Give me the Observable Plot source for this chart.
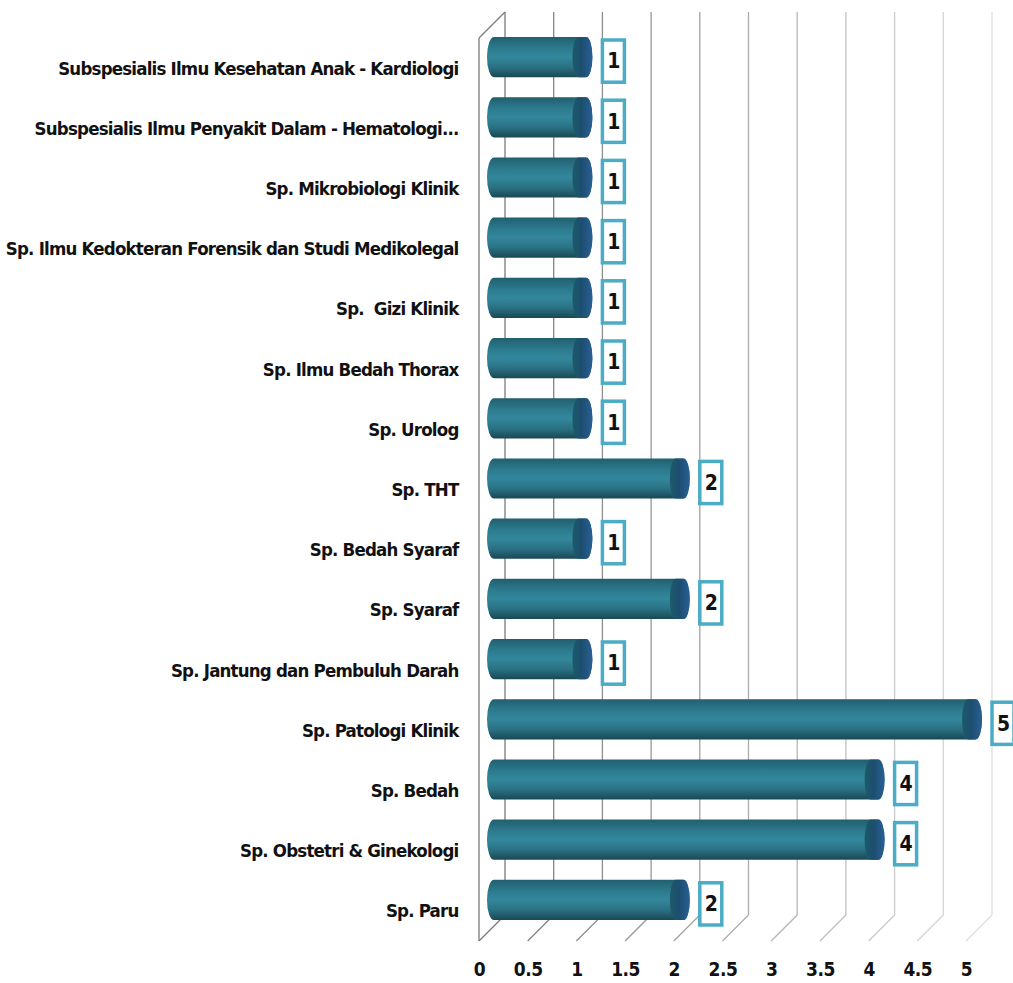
<!DOCTYPE html>
<html>
<head>
<meta charset="utf-8">
<script src="https://cdn.jsdelivr.net/npm/d3@7"></script>
<script src="https://cdn.jsdelivr.net/npm/@observablehq/plot@0.6"></script>
<style>
  html, body { margin: 0; padding: 0; background: #ffffff; }
  #chart { width: 1013px; height: 983px; overflow: hidden; }
  #chart svg [aria-label^="y-axis"] text { font-size: 18.5px; letter-spacing: -0.8px; }
  #chart svg [aria-label^="x-axis"] text { font-size: 19px; letter-spacing: -0.5px; }
</style>
</head>
<body>
<div id="chart"></div>
<script>
// ---- data (top to bottom as displayed) ----
const categories = [
  "Subspesialis Ilmu Kesehatan Anak - Kardiologi",
  "Subspesialis Ilmu Penyakit Dalam - Hematologi...",
  "Sp. Mikrobiologi Klinik",
  "Sp. Ilmu Kedokteran Forensik dan Studi Medikolegal",
  "Sp.  Gizi Klinik",
  "Sp. Ilmu Bedah Thorax",
  "Sp. Urolog",
  "Sp. THT",
  "Sp. Bedah Syaraf",
  "Sp. Syaraf",
  "Sp. Jantung dan Pembuluh Darah",
  "Sp. Patologi Klinik",
  "Sp. Bedah",
  "Sp. Obstetri & Ginekologi",
  "Sp. Paru"
];
const values = [1, 1, 1, 1, 1, 1, 1, 2, 1, 2, 1, 5, 4, 4, 2];
const xTicks = [0, 0.5, 1, 1.5, 2, 2.5, 3, 3.5, 4, 4.5, 5];
const xTickLabels = ["0", "0.5", "1", "1.5", "2", "2.5", "3", "3.5", "4", "4.5", "5"];

const rows = categories.map((c, i) => ({cat: c, idx: i, value: values[i]}));
const n = categories.length;

const FONT = "'Liberation Sans Narrow', 'DejaVu Sans Condensed', 'Liberation Sans', sans-serif";
const DEPTH = 26;   // 3-D depth offset in px
const gridColor = d3.scaleLinear().domain([0, 5]).range(["#7a7a7a", "#dedede"]);

// custom mark: 3-D walls (back grid lines + floor diagonals), drawn through Plot's scales
const wallMark = (index, scales) => {
  const {x, y} = scales;
  const g = d3.create("svg:g").attr("fill", "none").attr("stroke-width", 1.3);
  const yTop = y(0), yBot = y(n);
  for (const t of xTicks) {
    const c = gridColor(t);
    g.append("line").attr("stroke", c)
      .attr("x1", x(t) + DEPTH).attr("x2", x(t) + DEPTH)
      .attr("y1", yTop - DEPTH).attr("y2", yBot - DEPTH);
    g.append("line").attr("stroke", c)
      .attr("x1", x(t)).attr("y1", yBot)
      .attr("x2", x(t) + DEPTH).attr("y2", yBot - DEPTH);
  }
  // left side wall: front edge and top diagonal
  g.append("line").attr("stroke", "#7a7a7a")
    .attr("x1", x(0)).attr("x2", x(0)).attr("y1", yTop).attr("y2", yBot);
  g.append("line").attr("stroke", "#7a7a7a")
    .attr("x1", x(0)).attr("y1", yTop).attr("x2", x(0) + DEPTH).attr("y2", yTop - DEPTH);
  return g.node();
};

const chart = Plot.plot({
  width: 1013,
  height: 983,
  marginLeft: 479,
  marginRight: 47,
  marginTop: 38,
  marginBottom: 42,
  style: {
    fontFamily: FONT,
    fontSize: "17px",
    fontWeight: "bold",
    color: "#111",
    background: "#ffffff",
    overflow: "visible"
  },
  x: {
    domain: [0, 5],
    ticks: xTicks,
    tickFormat: (d) => xTickLabels[xTicks.indexOf(d)],
    tickSize: 0,
    tickPadding: 21,
    label: null
  },
  y: {
    domain: [0, n],
    reverse: true,
    ticks: d3.range(n).map((i) => i + 0.5),
    tickFormat: (d) => categories[Math.floor(d)],
    tickSize: 0,
    tickPadding: 21,
    label: null
  },
  marks: [
    wallMark,
    // cylinder bodies
    Plot.rectX(rows, {
      x1: 0, x2: "value", y1: "idx", y2: (d) => d.idx + 1,
      insetTop: 10, insetBottom: 10, insetLeft: -4, insetRight: -4,
      dx: 12, dy: -11,
      rx: 7, ry: 20,
      fill: "url(#barGrad)"
    }),
    // end caps
    Plot.rectX(rows, {
      x1: "value", x2: "value", y1: "idx", y2: (d) => d.idx + 1,
      insetTop: 10, insetBottom: 10, insetLeft: -4, insetRight: -16,
      dy: -11,
      rx: 6, ry: 20,
      fill: "url(#capGrad)"
    }),
    // value label boxes
    Plot.rectX(rows, {
      x1: "value", x2: "value", y1: "idx", y2: (d) => d.idx + 1,
      insetTop: 9, insetBottom: 9, insetLeft: -11, insetRight: -11,
      dx: 37, dy: -7,
      fill: "#ffffff", stroke: "#4bacc6", strokeWidth: 3.5
    }),
    Plot.text(rows, {
      x: "value", y: (d) => d.idx + 0.5,
      text: (d) => String(d.value),
      dx: 37, dy: -7,
      fontSize: 21, fontWeight: "bold", fill: "#111"
    })
  ]
});

// gradients for the cylinder look
const svg = d3.select(chart);
const defs = svg.insert("defs", ":first-child");
const bg = defs.append("linearGradient").attr("id", "barGrad")
  .attr("x1", 0).attr("y1", 0).attr("x2", 0).attr("y2", 1);
[[0, "#215f6f"], [0.3, "#2d7c90"], [0.5, "#33879c"], [0.75, "#2a7183"], [1, "#1a4854"]]
  .forEach(([o, c]) => bg.append("stop").attr("offset", o).attr("stop-color", c));
const cg = defs.append("linearGradient").attr("id", "capGrad")
  .attr("x1", 0).attr("y1", 0).attr("x2", 1).attr("y2", 0);
[[0, "#1d5a6a"], [0.45, "#1c4e6e"], [1, "#2a5f95"]]
  .forEach(([o, c]) => cg.append("stop").attr("offset", o).attr("stop-color", c));

document.getElementById("chart").appendChild(chart);
</script>
</body>
</html>
